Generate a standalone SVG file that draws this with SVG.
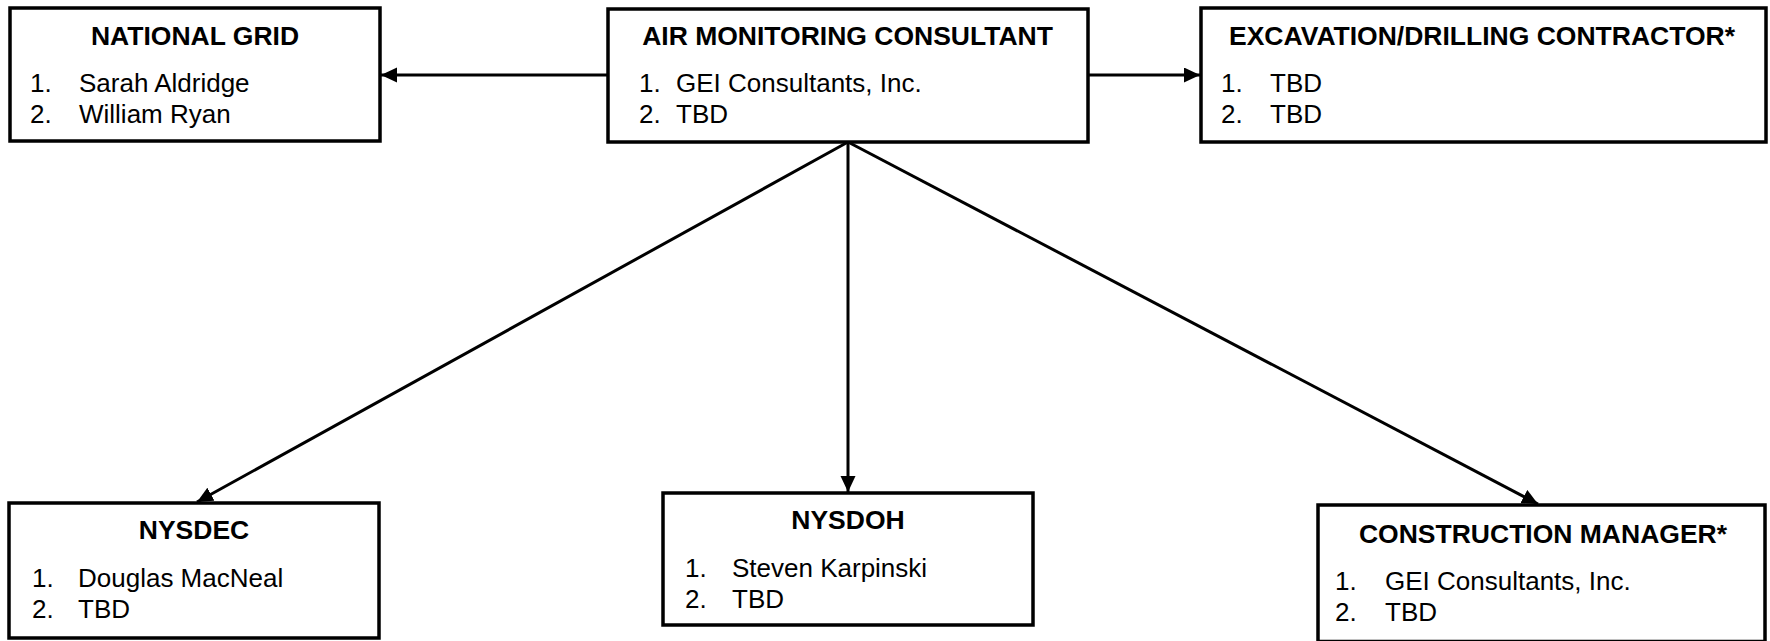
<svg xmlns="http://www.w3.org/2000/svg" width="1770" height="641" viewBox="0 0 1770 641">
<style>
.box{fill:#fff;stroke:#000;stroke-width:3.5}
.t{font-family:"Liberation Sans",Arial,sans-serif;font-size:26.5px;font-weight:bold;text-anchor:middle;fill:#000}
.b{font-family:"Liberation Sans",Arial,sans-serif;font-size:26px;fill:#000}
.c{fill:none;stroke:#000;stroke-width:3}
</style>
<defs>
<marker id="ah" markerUnits="userSpaceOnUse" markerWidth="17" markerHeight="16" refX="16" refY="7.5" orient="auto">
<path d="M0,0 L16,7.5 L0,15 z" fill="#000"/>
</marker>
</defs>
<g id="connectors">
<line class="c" x1="608" y1="75" x2="381" y2="75" marker-end="url(#ah)"/>
<line class="c" x1="1088" y1="75" x2="1200" y2="75" marker-end="url(#ah)"/>
<line class="c" x1="848" y1="142" x2="197" y2="502" marker-end="url(#ah)"/>
<line class="c" x1="848" y1="142" x2="848" y2="492" marker-end="url(#ah)"/>
<line class="c" x1="848" y1="142" x2="1538" y2="504" marker-end="url(#ah)"/>
</g>
<g id="national-grid">
<rect class="box" x="10" y="8" width="370" height="133"/>
<text class="t" x="195" y="45">NATIONAL GRID</text>
<text class="b" x="30" y="92">1.</text><text class="b" x="79" y="92">Sarah Aldridge</text>
<text class="b" x="30" y="123">2.</text><text class="b" x="79" y="123">William Ryan</text>
</g>
<g id="air-monitoring">
<rect class="box" x="608" y="9" width="480" height="133"/>
<text class="t" x="847.5" y="45">AIR MONITORING CONSULTANT</text>
<text class="b" x="639" y="92">1.</text><text class="b" x="676" y="92">GEI Consultants, Inc.</text>
<text class="b" x="639" y="123">2.</text><text class="b" x="676" y="123">TBD</text>
</g>
<g id="excavation">
<rect class="box" x="1201" y="8" width="565" height="134"/>
<text class="t" x="1482" y="45">EXCAVATION/DRILLING CONTRACTOR*</text>
<text class="b" x="1221" y="92">1.</text><text class="b" x="1270" y="92">TBD</text>
<text class="b" x="1221" y="123">2.</text><text class="b" x="1270" y="123">TBD</text>
</g>
<g id="nysdec">
<rect class="box" x="9" y="503" width="370" height="135"/>
<text class="t" x="194" y="539">NYSDEC</text>
<text class="b" x="32" y="587">1.</text><text class="b" x="78" y="587">Douglas MacNeal</text>
<text class="b" x="32" y="618">2.</text><text class="b" x="78" y="618">TBD</text>
</g>
<g id="nysdoh">
<rect class="box" x="663" y="493" width="370" height="132"/>
<text class="t" x="848" y="529">NYSDOH</text>
<text class="b" x="685" y="577">1.</text><text class="b" x="732" y="577">Steven Karpinski</text>
<text class="b" x="685" y="608">2.</text><text class="b" x="732" y="608">TBD</text>
</g>
<g id="construction-manager">
<rect class="box" x="1318" y="505" width="447" height="136.5"/>
<text class="t" x="1543" y="543">CONSTRUCTION MANAGER*</text>
<text class="b" x="1335" y="590">1.</text><text class="b" x="1385" y="590">GEI Consultants, Inc.</text>
<text class="b" x="1335" y="621">2.</text><text class="b" x="1385" y="621">TBD</text>
</g>
</svg>
